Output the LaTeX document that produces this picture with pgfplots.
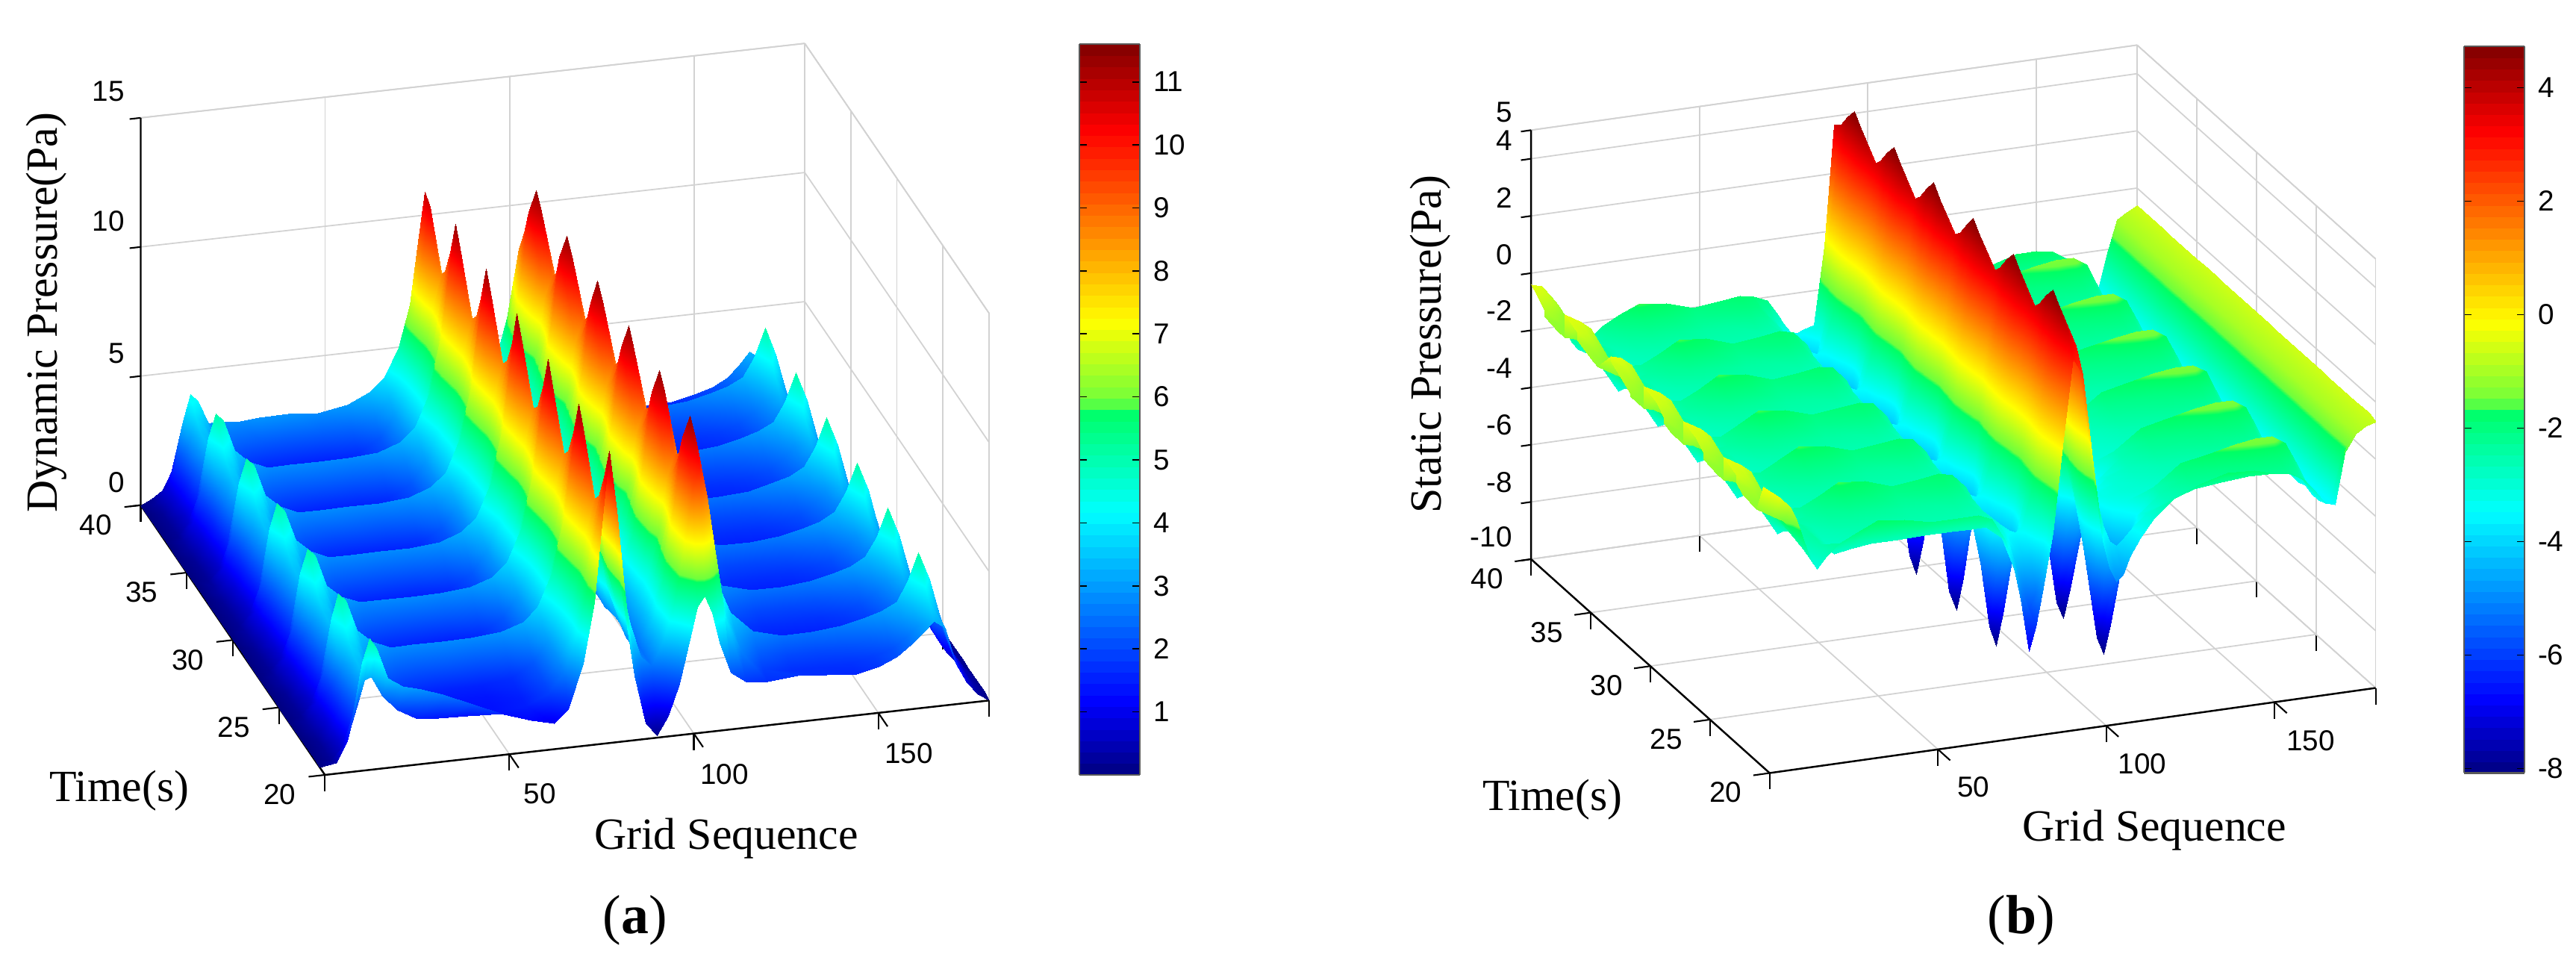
\documentclass[border=0pt]{standalone}
\usepackage{fontspec}
\setmainfont{Liberation Serif}
\newfontfamily\arial{Liberation Sans}
\usepackage{pgfplots}
\usepackage{pgfplotstable}
\pgfplotsset{compat=1.18}

\pgfplotsset{colormap={wavejet}{rgb255(0)=(0,0,128) rgb255(10)=(0,0,255) rgb255(36)=(0,255,255) rgb255(50)=(0,255,100) rgb255(51)=(110,255,60) rgb255(62)=(255,255,0) rgb255(88)=(255,0,0) rgb255(100)=(128,0,0)}}

% dynamic pressure, one row per time step: grid position, value
\def\aTop{0 0.0\\3 0.2\\6 0.5\\8 1.0\\10 1.8\\12 2.6\\14 3.0\\17 2.9\\21 2.9\\26 2.8\\32 2.9\\40 2.9\\48 2.8\\56 3.0\\62 3.4\\66 3.9\\70 5.0\\73 6.6\\75 8.8\\77 10.9\\79 9.2\\81 6.8\\84 4.4\\87 3.0\\90 2.5\\93 3.2\\96 4.0\\99 5.5\\101 7.0\\103 7.5\\105 6.8\\107 5.5\\110 3.8\\114 2.6\\120 2.0\\128 1.8\\136 1.7\\144 1.7\\150 1.9\\155 2.1\\159 2.4\\162 2.8\\165 3.3\\168 3.0\\171 1.8\\174 0.9\\177 0.4\\180 0.1\\}
\def\aJa{0 0.0\\3 0.3\\6 1.0\\8 2.2\\10 4.2\\12 5.1\\14 4.8\\17 3.6\\21 3.1\\26 2.8\\32 2.8\\40 2.8\\48 2.8\\56 2.9\\62 3.2\\66 3.7\\70 5.0\\73 7.0\\75 9.3\\77 11.4\\79 9.6\\81 7.0\\84 4.6\\87 3.0\\90 2.5\\93 3.4\\96 4.6\\99 6.2\\101 8.2\\103 9.0\\105 8.0\\107 6.2\\110 3.9\\114 2.5\\120 1.7\\128 1.55\\136 1.5\\144 1.55\\150 1.7\\155 1.9\\159 2.3\\162 2.7\\165 3.3\\168 2.9\\171 1.7\\174 0.9\\177 0.4\\180 0.1\\}
\def\aJb{0 0.0\\3 0.2\\6 0.7\\8 1.3\\10 2.2\\12 3.2\\14 3.3\\17 2.5\\21 1.9\\26 1.5\\32 1.4\\40 1.35\\48 1.35\\56 1.5\\62 1.9\\66 2.6\\70 4.2\\73 6.0\\75 8.2\\77 10.0\\79 8.4\\81 6.2\\84 4.2\\87 2.9\\90 2.5\\93 3.4\\96 4.8\\99 7.2\\101 9.2\\103 10.0\\105 8.8\\107 6.8\\110 4.0\\114 2.7\\120 1.9\\128 1.7\\136 1.7\\144 1.75\\150 1.9\\155 2.1\\159 2.5\\162 2.9\\165 3.8\\168 3.1\\171 1.8\\174 0.9\\177 0.4\\180 0.1\\}
\def\aJc{0 0.0\\3 0.2\\6 0.7\\8 1.4\\10 2.4\\12 3.4\\14 3.3\\17 2.6\\21 1.9\\26 1.5\\32 1.4\\40 1.35\\48 1.35\\56 1.5\\62 2.0\\66 2.8\\70 4.2\\73 5.8\\75 7.6\\77 9.0\\79 7.8\\81 5.8\\84 4.0\\87 2.8\\90 2.5\\93 3.5\\96 5.0\\99 7.8\\101 10.0\\103 10.9\\105 9.4\\107 7.2\\110 4.4\\114 3.1\\120 2.3\\128 2.0\\136 2.0\\144 2.1\\150 2.3\\155 2.5\\159 2.9\\162 3.4\\165 4.4\\168 3.5\\171 2.0\\174 1.0\\177 0.4\\180 0.1\\}
\def\aJd{0 0.0\\3 0.2\\6 0.8\\8 1.5\\10 2.6\\12 3.5\\14 3.4\\17 2.7\\21 2.0\\26 1.6\\32 1.45\\40 1.4\\48 1.4\\56 1.6\\62 2.1\\66 2.9\\70 4.3\\73 5.8\\75 7.4\\77 8.6\\79 7.4\\81 5.6\\84 3.9\\87 2.8\\90 2.5\\93 3.6\\96 5.2\\99 8.2\\101 10.6\\103 11.4\\105 9.8\\107 7.4\\110 5.0\\114 3.6\\120 2.8\\128 2.5\\136 2.5\\144 2.6\\150 2.8\\155 3.0\\159 3.3\\162 4.0\\165 5.1\\168 4.0\\171 2.2\\174 1.1\\177 0.5\\180 0.1\\}
\def\aJe{0 0.0\\3 0.2\\6 0.8\\8 1.6\\10 2.8\\12 3.8\\14 3.6\\17 2.9\\21 2.1\\26 1.8\\32 1.6\\40 1.55\\48 1.55\\56 1.7\\62 2.2\\66 3.0\\70 4.4\\73 6.2\\75 8.0\\77 9.4\\79 8.0\\81 6.0\\84 4.0\\87 2.8\\90 2.5\\93 3.5\\96 4.8\\99 7.4\\101 9.4\\103 10.2\\105 8.8\\107 6.6\\110 4.4\\114 2.6\\120 1.7\\128 1.45\\136 1.45\\144 1.5\\150 1.7\\155 1.95\\159 2.3\\162 2.6\\165 3.1\\168 2.6\\171 1.6\\174 0.8\\177 0.3\\180 0.1\\}
\def\aJf{0 0.0\\3 0.3\\6 0.9\\8 1.8\\10 3.4\\12 4.4\\14 4.1\\17 3.2\\21 2.6\\26 2.3\\32 2.2\\40 2.2\\48 2.2\\56 2.3\\62 2.7\\66 3.3\\70 4.7\\73 6.6\\75 8.8\\77 10.6\\79 8.8\\81 6.4\\84 4.3\\87 3.0\\90 2.5\\93 3.4\\96 4.6\\99 6.6\\101 8.6\\103 9.4\\105 8.2\\107 6.2\\110 4.0\\114 2.4\\120 1.6\\128 1.45\\136 1.45\\144 1.5\\150 1.65\\155 1.85\\159 2.2\\162 2.5\\165 2.9\\168 2.5\\171 1.5\\174 0.8\\177 0.3\\180 0.1\\}
\def\aBot{0 0.0\\3 0.4\\6 1.2\\8 2.4\\10 4.2\\12 5.1\\14 4.7\\17 3.5\\21 3.1\\26 2.9\\32 2.6\\40 2.1\\48 1.6\\56 1.2\\62 1.0\\66 1.5\\70 3.2\\73 5.5\\75 8.5\\77 11.3\\79 9.0\\81 6.0\\84 2.5\\87 0.6\\90 0.1\\93 0.8\\96 2.0\\99 3.8\\101 4.9\\103 5.3\\105 4.6\\107 3.4\\110 2.2\\114 1.8\\120 1.7\\128 1.8\\136 1.7\\144 1.6\\150 1.8\\155 2.1\\159 2.5\\162 2.9\\165 3.3\\168 3.0\\171 1.6\\174 0.8\\177 0.3\\180 0.0\\}
\def\aPer{\aJf\aJe\aJd\aJc\aJb\aJa}

% static pressure
\def\bTop{0 -0.4\\3 -0.5\\6 -0.9\\8 -1.3\\10 -2.0\\12 -2.6\\14 -2.9\\17 -2.6\\21 -2.2\\26 -1.9\\32 -1.6\\40 -1.7\\48 -2.0\\56 -1.9\\62 -1.8\\66 -1.9\\70 -2.1\\73 -2.6\\75 -3.0\\77 -3.3\\79 -3.4\\81 -3.3\\84 -3.2\\87 -0.5\\90 3.7\\93 3.0\\96 0.5\\99 -1.8\\101 -2.8\\103 -3.2\\105 -3.3\\107 -3.2\\110 -3.2\\114 -3.0\\120 -2.6\\128 -2.2\\136 -2.0\\144 -1.7\\150 -1.7\\155 -1.8\\159 -2.1\\162 -2.6\\165 -3.3\\168 -3.5\\171 -2.2\\174 -1.0\\177 -0.8\\180 -0.6\\}
\def\bJa{0 -0.4\\3 -0.5\\6 -0.8\\8 -1.3\\10 -2.0\\12 -2.7\\14 -3.1\\17 -2.7\\21 -2.3\\26 -2.0\\32 -1.6\\40 -1.7\\48 -2.0\\56 -1.9\\62 -1.8\\66 -1.9\\70 -2.4\\73 -3.6\\75 -5.5\\77 -7.4\\79 -8.1\\81 -7.0\\84 -3.8\\87 0.2\\90 3.6\\93 3.0\\96 0.5\\99 -1.8\\101 -2.8\\103 -3.2\\105 -3.3\\107 -3.2\\110 -3.2\\114 -3.0\\120 -2.8\\128 -2.6\\136 -2.5\\144 -2.4\\150 -2.4\\155 -2.4\\159 -2.5\\162 -3.0\\165 -3.4\\168 -3.5\\171 -2.2\\174 -1.0\\177 -0.8\\180 -0.6\\}
\def\bJb{0 -1.2\\3 -1.3\\6 -1.5\\8 -1.8\\10 -2.2\\12 -2.6\\14 -2.8\\17 -2.5\\21 -2.9\\26 -2.8\\32 -2.7\\40 -2.7\\48 -2.7\\56 -2.7\\62 -2.7\\66 -2.7\\70 -2.9\\73 -3.4\\75 -4.2\\77 -5.2\\79 -5.8\\81 -5.2\\84 -3.0\\87 0.5\\90 3.9\\93 3.2\\96 0.4\\99 -2.2\\101 -3.2\\103 -3.8\\105 -4.0\\107 -3.8\\110 -3.4\\114 -3.0\\120 -2.7\\128 -2.4\\136 -2.3\\144 -2.2\\150 -2.2\\155 -2.2\\159 -2.4\\162 -2.9\\165 -3.4\\168 -3.5\\171 -2.2\\174 -1.0\\177 -0.8\\180 -0.6\\}
\def\bJc{0 -1.2\\3 -1.3\\6 -1.5\\8 -1.8\\10 -2.2\\12 -2.5\\14 -2.6\\17 -2.4\\21 -2.8\\26 -2.7\\32 -2.6\\40 -2.6\\48 -2.6\\56 -2.6\\62 -2.6\\66 -2.7\\70 -2.8\\73 -3.1\\75 -3.5\\77 -3.9\\79 -4.1\\81 -3.8\\84 -2.4\\87 0.8\\90 4.4\\93 3.3\\96 0.2\\99 -3.0\\101 -4.6\\103 -5.6\\105 -5.9\\107 -5.4\\110 -4.0\\114 -3.2\\120 -2.6\\128 -2.2\\136 -2.1\\144 -2.0\\150 -1.9\\155 -1.9\\159 -2.1\\162 -2.7\\165 -3.4\\168 -3.5\\171 -2.2\\174 -1.0\\177 -0.8\\180 -0.6\\}
\def\bJd{0 -1.1\\3 -1.2\\6 -1.4\\8 -1.8\\10 -2.1\\12 -2.4\\14 -2.5\\17 -2.4\\21 -2.7\\26 -2.6\\32 -2.5\\40 -2.5\\48 -2.5\\56 -2.5\\62 -2.5\\66 -2.6\\70 -2.7\\73 -3.0\\75 -3.2\\77 -3.4\\79 -3.5\\81 -3.3\\84 -2.0\\87 1.0\\90 4.8\\93 3.4\\96 0.0\\99 -3.5\\101 -5.8\\103 -7.6\\105 -8.2\\107 -7.2\\110 -5.0\\114 -3.6\\120 -2.6\\128 -1.9\\136 -1.7\\144 -1.5\\150 -1.4\\155 -1.4\\159 -1.7\\162 -2.4\\165 -3.3\\168 -3.5\\171 -2.2\\174 -1.0\\177 -0.8\\180 -0.6\\}
\def\bJe{0 -0.9\\3 -1.0\\6 -1.2\\8 -1.6\\10 -2.1\\12 -2.4\\14 -2.6\\17 -2.4\\21 -2.6\\26 -2.4\\32 -2.3\\40 -2.3\\48 -2.4\\56 -2.4\\62 -2.3\\66 -2.4\\70 -2.7\\73 -3.1\\75 -3.5\\77 -3.9\\79 -4.1\\81 -3.8\\84 -2.4\\87 0.8\\90 4.4\\93 3.3\\96 0.2\\99 -3.0\\101 -4.6\\103 -5.6\\105 -5.9\\107 -5.4\\110 -3.6\\114 -3.2\\120 -3.0\\128 -2.8\\136 -2.7\\144 -2.7\\150 -2.6\\155 -2.6\\159 -2.7\\162 -3.0\\165 -3.4\\168 -3.5\\171 -2.2\\174 -1.0\\177 -0.8\\180 -0.6\\}
\def\bJf{0 -0.6\\3 -0.7\\6 -1.0\\8 -1.4\\10 -2.0\\12 -2.5\\14 -2.8\\17 -2.5\\21 -2.4\\26 -2.2\\32 -2.0\\40 -2.0\\48 -2.2\\56 -2.1\\62 -2.0\\66 -2.1\\70 -2.6\\73 -3.3\\75 -4.4\\77 -5.4\\79 -6.0\\81 -5.4\\84 -3.0\\87 0.5\\90 3.9\\93 3.2\\96 0.4\\99 -2.2\\101 -3.2\\103 -3.8\\105 -4.0\\107 -3.8\\110 -3.2\\114 -3.0\\120 -2.9\\128 -2.7\\136 -2.6\\144 -2.6\\150 -2.5\\155 -2.5\\159 -2.6\\162 -3.0\\165 -3.4\\168 -3.5\\171 -2.2\\174 -1.0\\177 -0.8\\180 -0.6\\}
\def\bBot{0 -0.2\\3 -0.4\\6 -0.8\\8 -1.3\\10 -2.0\\12 -2.7\\14 -3.1\\17 -2.7\\21 -2.3\\26 -2.0\\32 -1.7\\40 -1.8\\48 -2.0\\56 -2.0\\62 -2.0\\66 -2.2\\70 -3.0\\73 -4.2\\75 -5.4\\77 -7.0\\79 -6.2\\81 -5.0\\84 -3.0\\87 0.0\\90 3.0\\93 2.4\\96 -0.8\\99 -3.5\\101 -4.5\\103 -5.0\\105 -4.8\\107 -4.2\\110 -3.6\\114 -3.0\\120 -2.4\\128 -2.0\\136 -1.75\\144 -1.8\\150 -2.0\\155 -2.1\\159 -2.4\\162 -2.8\\165 -3.3\\168 -3.4\\171 -1.5\\174 -1.0\\177 -0.8\\180 -0.7\\}
\def\bPer{\bJf\bJe\bJd\bJc\bJb\bJa}

\begingroup\let\\\relax
\xdef\buildtabs{%
 \noexpand\pgfplotstableread[row sep=crcr,header=false]{\aTop\aPer\aPer\aPer\aPer\aPer\aJf\aJe\aJd\aJc\aJb\aBot}\noexpand\tabA
 \noexpand\pgfplotstableread[row sep=crcr,header=false]{\bTop\bPer\bPer\bPer\bPer\bPer\bJf\bJe\bJd\bJc\bJb\bBot}\noexpand\tabB}
\endgroup
\buildtabs

\pgfplotsset{
  wave/.style={
    clip=false, xmin=0, xmax=180, ymin=20, ymax=40,
    anchor=south west, grid=major,
    major grid style={gray!35, line width=.5pt},
    axis line style={gray!35, line width=.5pt},
    xtick pos=lower, ytick pos=lower, ztick pos=upper, zticklabel pos=lower,
    tick style={black, line width=.6pt}, major tick length=.22cm, tick align=outside,
    ztick style={draw=none},
    xtick={50,100,150}, xticklabels={50,100,150},
    ytick={20,25,30,35,40}, yticklabels={20,25,30,35,40},
    ticklabel style={font=\arial\fontsize{11}{11}\selectfont, inner sep=1pt},
    xticklabel style={xshift=.22cm, yshift=-.15cm},
    yticklabel style={xshift=-.17cm},
    zticklabel style={xshift=-.05cm, yshift=.05cm},
    label style={font=\fontsize{17}{17}\selectfont, anchor=center},
    colormap name=wavejet,
    colorbar sampled,
  },
  wavesurf/.style={surf, shader=interp, z buffer=reverse x seq, mesh/ordering=x varies, mesh/cols=48, mesh/rows=37, forget plot},
  barstyle/.style={samples=65, at={(parent axis.south west)}, anchor=south west,
    axis line style={draw=black!65, line width=.6pt},
    tick style={black, line width=.5pt}, major tick length=.1cm, tick align=inside,
    yticklabel style={font=\arial\fontsize{11}{11}\selectfont, xshift=.14cm}},
}

\begin{document}
\begin{tikzpicture}
\path[use as bounding box] (0,0) rectangle (34.51,13.02);

\begin{axis}[wave, at={(1.885cm,2.64cm)},
  x={(0.04943cm,0.005539cm)}, y={(-0.1234cm,0.18065cm)}, z={(0cm,0.3459cm)},
  zmin=0, zmax=15, ztick={0,5,10,15}, zticklabels={0,5,10,15},
  point meta min=0, point meta max=11.6,
  xlabel={Grid Sequence}, xlabel style={at={(axis cs:108.8,20,-4.2)}},
  ylabel={Time(s)}, ylabel style={at={(axis cs:0,42.31,-12.25)}},
  zlabel={Dynamic Pressure(Pa)}, zlabel style={at={(axis cs:0,50.25,2.1)}, rotate=0},
  colorbar style={barstyle, xshift=12.275cm, width=.81cm, height=9.79cm,
    ytick={1,2,3,4,5,6,7,8,9,10,11}, yticklabels={1,2,3,4,5,6,7,8,9,10,11}},
]
\addplot3[black, line width=.7pt, forget plot] coordinates {(0,40,15) (0,40,0) (0,20,0) (180,20,0)};
\addplot3[black, line width=.6pt, forget plot, unbounded coords=jump] coordinates {(-3,40,0) (0,40,0) (nan,nan,nan) (-3,40,5) (0,40,5) (nan,nan,nan) (-3,40,10) (0,40,10) (nan,nan,nan) (-3,40,15) (0,40,15)};
\addplot3[wavesurf] table[x index=0, y expr={40-0.555555*floor(\coordindex/48)}, z index=1] {\tabA};
\end{axis}

\begin{axis}[wave, at={(20.511cm,2.665cm)},
  x={(0.0451cm,0.006333cm)}, y={(-0.1598cm,0.14325cm)}, z={(0cm,0.3831cm)},
  zmin=-10, zmax=5, ztick={-10,-8,-6,-4,-2,0,2,4,5}, zticklabels={-10,-8,-6,-4,-2,0,2,4,5},
  point meta min=-8.08, point meta max=4.73,
  xlabel={Grid Sequence}, xlabel style={at={(axis cs:114.3,20,-13.9)}},
  ylabel={Time(s)}, ylabel style={at={(axis cs:0,38.21,-17.74)}},
  zlabel={Static Pressure(Pa)}, zlabel style={at={(axis cs:0,48.43,-5.63)}, rotate=0},
  colorbar style={barstyle, xshift=12.197cm, width=.81cm, height=9.735cm,
    ytick={-8,-6,-4,-2,0,2,4}, yticklabels={-8,-6,-4,-2,0,2,4}},
]
\addplot3[black, line width=.7pt, forget plot] coordinates {(0,40,5) (0,40,-10) (0,20,-10) (180,20,-10)};
\addplot3[black, line width=.6pt, forget plot, unbounded coords=jump] coordinates {(-3,40,-10) (0,40,-10) (nan,nan,nan) (-3,40,-8) (0,40,-8) (nan,nan,nan) (-3,40,-6) (0,40,-6) (nan,nan,nan) (-3,40,-4) (0,40,-4) (nan,nan,nan) (-3,40,-2) (0,40,-2) (nan,nan,nan) (-3,40,0) (0,40,0) (nan,nan,nan) (-3,40,2) (0,40,2) (nan,nan,nan) (-3,40,4) (0,40,4) (nan,nan,nan) (-3,40,5) (0,40,5)};
\addplot3[wavesurf] table[x index=0, y expr={40-0.555555*floor(\coordindex/48)}, z index=1] {\tabB};
\end{axis}

\node[font=\fontsize{21}{21}\selectfont] at (8.51,0.69) {(\textbf{a})};
\node[font=\fontsize{21}{21}\selectfont] at (27.08,0.69) {(\textbf{b})};
\end{tikzpicture}
\end{document}
